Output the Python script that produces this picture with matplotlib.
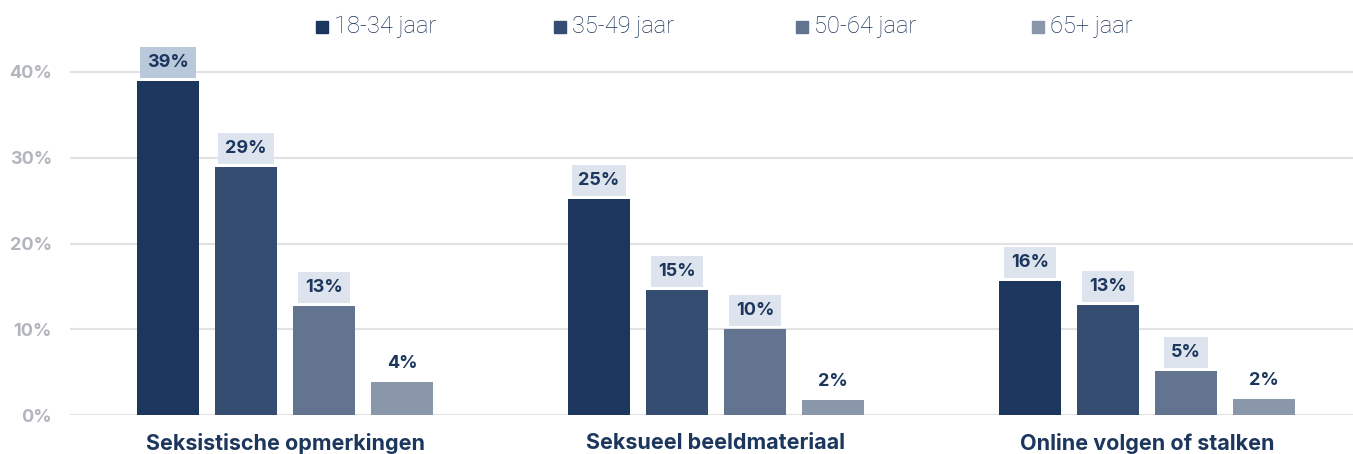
import matplotlib
matplotlib.use("Agg")
import matplotlib.pyplot as plt
import numpy as np

categories = ["Seksistische opmerkingen", "Seksueel beeldmateriaal", "Online volgen of stalken"]
series = ["18-34 jaar", "35-49 jaar", "50-64 jaar", "65+ jaar"]
values = {
    "18-34 jaar": [39, 25, 16],
    "35-49 jaar": [29, 15, 13],
    "50-64 jaar": [13, 10, 5],
    "65+ jaar": [4, 2, 2],
}
bar_heights = {
    "18-34 jaar": [38.95, 25.2, 15.6],
    "35-49 jaar": [28.9, 14.6, 12.8],
    "50-64 jaar": [12.7, 10.0, 5.1],
    "65+ jaar": [3.8, 1.7, 1.9],
}
yticks = [0, 10, 20, 30, 40]

colors = ["#1c365e", "#354d71", "#62748f", "#8a97ab"]
navy = "#1c365e"

plt.rcParams['font.family'] = ['Inter', 'DejaVu Sans']

W, H = 1353, 454
fig = plt.figure(figsize=(W/100, H/100), dpi=100)
ax_left, ax_right = 70, 1353
ax_bottom, ax_top = 415, 45
ax = fig.add_axes([ax_left/W, 1-ax_bottom/H, (ax_right-ax_left)/W, (ax_bottom-ax_top)/H])

px_per_unit = 10/85.75
ax.set_ylim(0, (ax_bottom-ax_top)*px_per_unit)
group_px = 431
x0 = -(285-ax_left)/group_px
ax.set_xlim(x0, x0 + (ax_right-ax_left)/group_px)

step = 78/group_px
width = 62/group_px
x = np.arange(len(categories))
max_val = max(max(v) for v in values.values())
for i, s in enumerate(series):
    xs = x + (i-1.5)*step
    ax.bar(xs, bar_heights[s], width=width, color=colors[i], zorder=3)
    for xi, h, v in zip(xs, bar_heights[s], values[s]):
        if v == max_val:
            fc = "#b9c9db"
        elif v >= 5:
            fc = "#dde4ed"
        else:
            fc = "white"
        ax.text(xi, h + 2.15, f"{v}%", ha="center", va="center", fontsize=13,
                fontweight="bold", color=navy, zorder=4,
                bbox=dict(boxstyle="square,pad=0.38", fc=fc, ec="none"))

ax.set_yticks(yticks)
ax.set_yticklabels([f"{t}%" for t in yticks], fontsize=13, fontweight="bold", color="#b3b5be")
ax.yaxis.grid(True, color="#e2e2e2", linewidth=1.5, zorder=0)
ax.tick_params(axis="y", length=0, pad=13)
ax.set_xticks(x)
ax.set_xticklabels(categories, fontsize=15.5, fontweight="bold", color=navy)
ax.tick_params(axis="x", length=0, pad=13)
for sp in ax.spines.values():
    sp.set_visible(False)

# legend
leg_x = [316, 554, 796, 1032]
for i, s in enumerate(series):
    fig.patches.append(plt.Rectangle((leg_x[i]/W, 1-33/H), 12/W, 12/H,
                                     transform=fig.transFigure, color=colors[i]))
    fig.text((leg_x[i]+18)/W, 1-27/H, s, fontsize=17, color=navy, va="center", ha="left",
             fontweight="light", family=["Roboto", "DejaVu Sans"])

fig.savefig("out.png", dpi=100)
